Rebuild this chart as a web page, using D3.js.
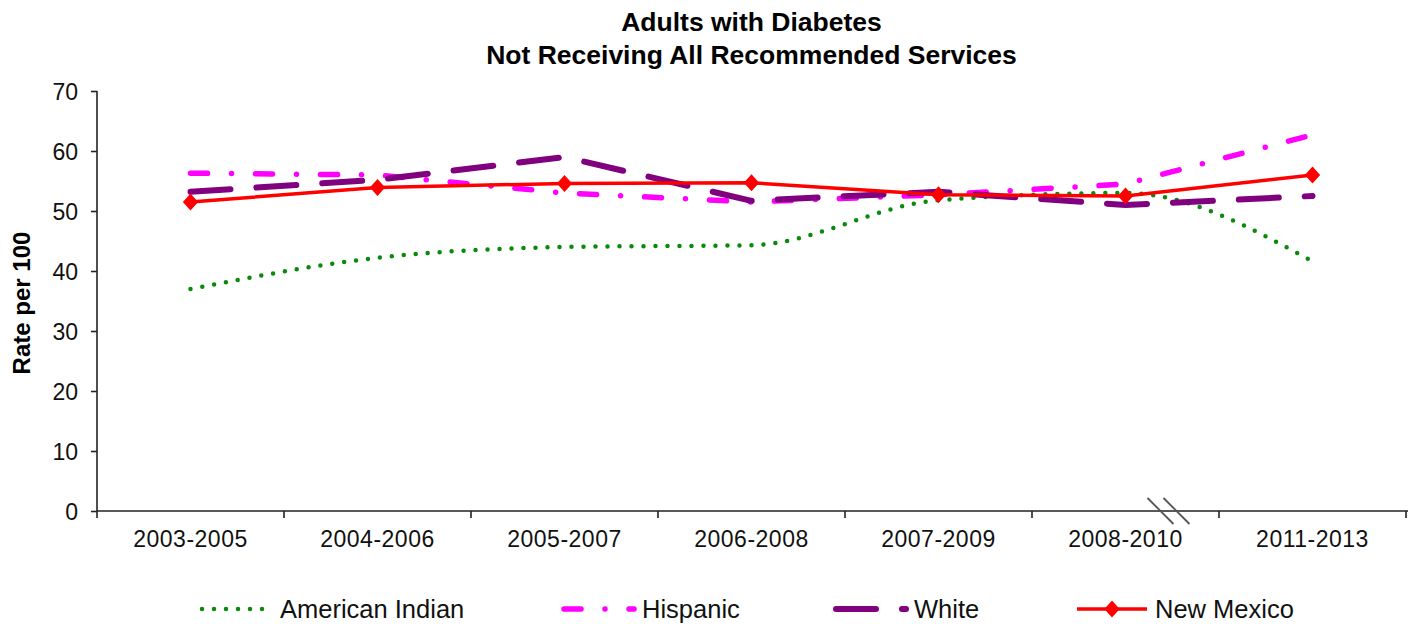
<!DOCTYPE html>
<html>
<head>
<meta charset="utf-8">
<script src="https://cdn.jsdelivr.net/npm/d3@7"></script>
<style>
  html, body { margin: 0; padding: 0; background: #fff; }
  svg { display: block; font-family: "Liberation Sans", Arial, sans-serif; }
</style>
</head>
<body>
<svg id="chart" width="1416" height="624"></svg>
<script>
// Periods (three-year aggregates)
const categories = ["2003-2005", "2004-2006", "2005-2007", "2006-2008", "2007-2009", "2008-2010", "2011-2013"];

// Rate per 100 adults with diabetes not receiving all recommended services
const americanIndian = [37.0, 42.2, 44.0, 44.3, 51.8, 53.0, 41.6];
const hispanic       = [56.3, 56.0, 53.0, 51.5, 52.7, 54.5, 62.7];
const white          = [53.2, 55.2, 59.0, 51.7, 53.2, 51.0, 52.5];
const newMexico      = [51.5, 53.9, 54.6, 54.7, 52.7, 52.5, 56.0];

const seriesNames = ["American Indian", "Hispanic", "White", "New Mexico"];
const yTicks = [0, 10, 20, 30, 40, 50, 60, 70];

const titleLines = ["Adults with Diabetes", "Not Receiving All Recommended Services"];
const yTitle = "Rate per 100";

const svg = d3.select("#chart");

const plot = { left: 97, right: 1406, top: 91, bottom: 511 };

const x = d3.scaleBand().domain(categories).range([plot.left, plot.right]).padding(0);
const cx = c => x(c) + x.bandwidth() / 2;
const y = d3.scaleLinear().domain([0, 70]).range([plot.bottom, plot.top]);

// Title
svg.append("g")
  .selectAll("text")
  .data(titleLines)
  .join("text")
  .attr("x", (plot.left + plot.right) / 2)
  .attr("y", (d, i) => 31 + i * 33)
  .attr("text-anchor", "middle")
  .attr("font-size", 26.5)
  .attr("font-weight", "bold")
  .attr("fill", "#000")
  .text(d => d);

// Y axis
const yAxis = svg.append("g")
  .attr("transform", `translate(${plot.left},0)`)
  .call(d3.axisLeft(y).tickValues(yTicks).tickSize(6).tickPadding(13).tickFormat(d3.format("d")));
yAxis.select(".domain").attr("stroke", "#222").attr("stroke-width", 1.6)
  .attr("d", `M0,${plot.top}V${plot.bottom + 7}`);
yAxis.selectAll(".tick line").attr("stroke", "#222").attr("stroke-width", 1.6);
yAxis.selectAll(".tick text")
  .attr("font-size", 23).attr("fill", "#111")
  .attr("font-family", "Liberation Sans, Arial, sans-serif")
  .attr("dy", "0.36em");

// Y axis title
svg.append("text")
  .attr("transform", `translate(30,303) rotate(-90)`)
  .attr("text-anchor", "middle")
  .attr("font-size", 24)
  .attr("font-weight", "bold")
  .attr("fill", "#000")
  .text(yTitle);

// X axis: labels centred in each category, ticks on category boundaries
const xAxis = svg.append("g")
  .attr("transform", `translate(0,${plot.bottom})`)
  .call(d3.axisBottom(x).tickSize(0).tickPadding(20));
xAxis.select(".domain").attr("stroke", "#222").attr("stroke-width", 1.6)
  .attr("d", `M${plot.left},0H${plot.right + 2}`);
xAxis.selectAll(".tick text")
  .attr("font-size", 23).attr("fill", "#111")
  .attr("font-family", "Liberation Sans, Arial, sans-serif")
  .attr("letter-spacing", 0.5);

const boundaries = categories.map(c => x(c)).concat([x(categories[categories.length - 1]) + x.bandwidth()]);
svg.append("g")
  .selectAll("line")
  .data(boundaries.slice(1))
  .join("line")
  .attr("x1", d => d).attr("x2", d => d)
  .attr("y1", plot.bottom).attr("y2", plot.bottom + 7)
  .attr("stroke", "#222").attr("stroke-width", 1.6);

// Axis break between 2008-2010 and 2011-2013
const breakX = cx(categories[5]) + x.bandwidth() * 0.23;
svg.append("g")
  .selectAll("line")
  .data([-8, 8])
  .join("line")
  .attr("x1", d => breakX + d - 13).attr("y1", plot.bottom - 13)
  .attr("x2", d => breakX + d + 13).attr("y2", plot.bottom + 13)
  .attr("stroke", "#555").attr("stroke-width", 1.8);

// Series styles
const styles = [
  { name: seriesNames[0], values: americanIndian, color: "#0a8a0a", width: 4.5, dash: "0 12", curve: d3.curveMonotoneX },
  { name: seriesNames[1], values: hispanic, color: "#ff00ff", width: 5.5, dash: "17 24 0 24", curve: d3.curveLinear },
  { name: seriesNames[2], values: white, color: "#800080", width: 6, dash: "40 26", curve: d3.curveLinear },
  { name: seriesNames[3], values: newMexico, color: "#ff0000", width: 3.5, dash: null, curve: d3.curveLinear, marker: true }
];

const diamond = (px, py, r) => `M${px},${py - r}L${px + r * 0.9},${py}L${px},${py + r}L${px - r * 0.9},${py}Z`;

const linesG = svg.append("g");
styles.forEach(s => {
  const line = d3.line().x((d, i) => cx(categories[i])).y(d => y(d)).curve(s.curve);
  linesG.append("path")
    .datum(s.values)
    .attr("d", line)
    .attr("fill", "none")
    .attr("stroke", s.color)
    .attr("stroke-width", s.width)
    .attr("stroke-linecap", s.dash ? "round" : "butt")
    .attr("stroke-linejoin", "round")
    .attr("stroke-dasharray", s.dash);
  if (s.marker) {
    linesG.append("g")
      .selectAll("path")
      .data(s.values)
      .join("path")
      .attr("d", (d, i) => diamond(cx(categories[i]), y(d), 8.5))
      .attr("fill", s.color);
  }
});

// Legend
const legendStarts = [202, 564, 836, 1077];
const legendY = 609;
const legend = svg.append("g");
styles.forEach((s, i) => {
  const x0 = legendStarts[i];
  const g = legend.append("g");
  g.append("line")
    .attr("x1", x0).attr("x2", x0 + 70)
    .attr("y1", legendY).attr("y2", legendY)
    .attr("stroke", s.color)
    .attr("stroke-width", s.width)
    .attr("stroke-linecap", s.dash ? "round" : "butt")
    .attr("stroke-dasharray", s.dash);
  if (s.marker) {
    g.append("path").attr("d", diamond(x0 + 35, legendY, 8.5)).attr("fill", s.color);
  }
  g.append("text")
    .attr("x", x0 + 78)
    .attr("y", legendY + 9)
    .attr("font-size", 25.5)
    .attr("fill", "#111")
    .text(s.name);
});
</script>
</body>
</html>
